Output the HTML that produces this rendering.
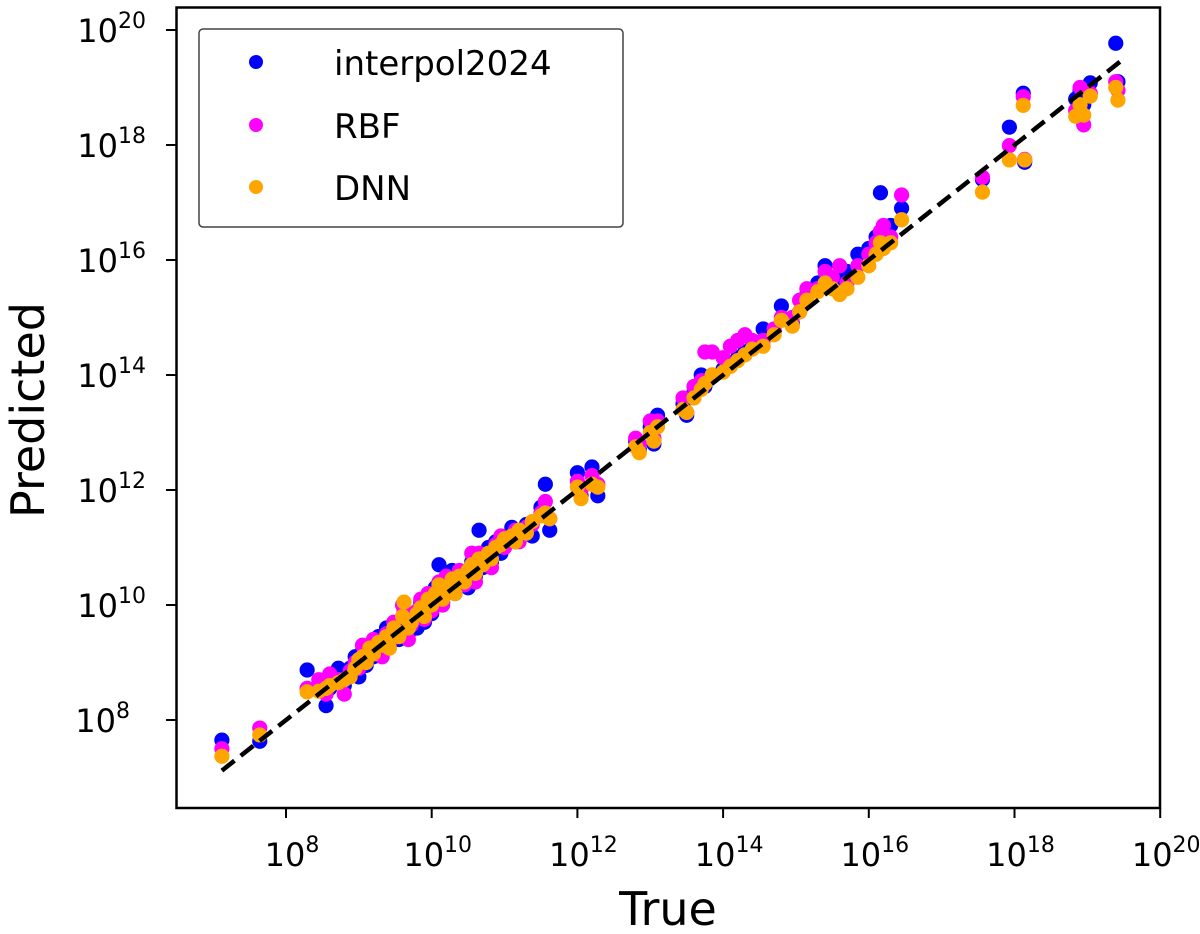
<!DOCTYPE html>
<html><head><meta charset="utf-8"><style>
body{margin:0;background:#fff}
svg{display:block;font-family:"DejaVu Sans","Liberation Sans",sans-serif}
</style></head><body>
<svg id="chart" width="1200" height="934" viewBox="0 0 1200 934">
<rect x="0" y="0" width="1200" height="934" fill="#fff"/>
<g id="ticks"></g>
<g id="marks"></g>
<rect x="176.5" y="7.5" width="983.5" height="800.5" fill="none" stroke="#000" stroke-width="2.5"/>
<text x="668" y="925" font-size="46" text-anchor="middle">True</text>
<text transform="translate(44,410) rotate(-90)" font-size="46" text-anchor="middle">Predicted</text>
<g>
<rect x="199" y="29" width="424" height="198" rx="4" fill="#fff" stroke="#444" stroke-width="1.5"/>
<circle cx="256" cy="62" r="7" fill="#0000ff"/>
<text x="334" y="75" font-size="34">interpol2024</text>
<circle cx="256" cy="125" r="7" fill="#ff00ff"/>
<text x="334" y="138" font-size="34">RBF</text>
<circle cx="256" cy="187" r="7" fill="#ffa500"/>
<text x="334" y="200" font-size="34">DNN</text>
</g>
</svg>
<script>
const xTicks=[8,10,12,14,16,18,20];
const yTicks=[8,10,12,14,16,18,20];
const trueVals=[7.12,7.64,8.29,8.45,8.55,8.6,8.72,8.8,8.88,8.95,9.0,9.05,9.1,9.15,9.2,9.27,9.32,9.38,9.42,9.48,9.55,9.6,9.62,9.68,9.72,9.8,9.85,9.9,9.95,10.0,10.05,10.1,10.15,10.2,10.28,10.32,10.38,10.45,10.5,10.55,10.6,10.65,10.7,10.78,10.82,10.88,10.95,11.0,11.1,11.15,11.2,11.3,11.38,11.5,11.56,11.62,12.0,12.05,12.2,12.28,12.8,12.85,13.0,13.05,13.1,13.45,13.5,13.6,13.7,13.75,13.85,14.0,14.1,14.2,14.3,14.4,14.55,14.7,14.8,14.95,15.05,15.15,15.3,15.4,15.5,15.6,15.7,15.85,16.0,16.1,16.16,16.2,16.3,16.45,17.56,17.93,18.14,18.12,18.84,18.9,18.95,19.04,19.39,19.42];
const interpolVals=[7.65,7.63,8.87,8.6,8.25,8.55,8.9,8.6,8.9,9.1,8.75,9.2,8.95,9.3,9.1,9.45,9.2,9.6,9.3,9.55,9.4,9.7,9.9,9.5,9.75,9.6,10.05,9.7,10.15,9.85,10.3,10.7,10.05,10.4,10.6,10.2,10.4,10.55,10.3,10.75,10.5,11.3,10.65,11.0,10.75,11.1,10.9,11.1,11.35,11.1,11.25,11.4,11.2,11.7,12.1,11.3,12.3,11.9,12.4,11.9,12.85,12.7,13.1,12.8,13.3,13.5,13.3,13.7,14.0,13.8,14.0,14.1,14.2,14.3,14.4,14.5,14.8,14.75,15.2,14.9,15.1,15.4,15.6,15.9,15.6,15.7,15.8,16.1,16.2,16.4,17.17,16.5,16.6,16.9,17.4,18.31,17.7,18.9,18.8,18.95,18.7,19.08,19.77,19.1];
const rbfVals=[7.5,7.86,8.55,8.7,8.45,8.8,8.7,8.45,8.85,9.0,8.9,9.3,9.05,9.2,9.4,9.3,9.1,9.5,9.35,9.7,9.5,10.0,9.9,9.4,9.65,9.9,10.1,9.75,10.2,9.9,10.1,10.4,10.0,10.5,10.3,10.25,10.6,10.35,10.5,10.9,10.4,10.9,10.7,10.8,10.65,11.05,11.2,11.0,11.2,11.3,11.1,11.35,11.4,11.6,11.8,11.5,12.15,12.0,12.25,12.1,12.9,12.8,13.2,12.9,13.2,13.6,13.35,13.8,13.9,14.4,14.4,14.3,14.5,14.6,14.7,14.6,14.6,14.8,15.0,15.0,15.3,15.5,15.5,15.8,15.7,15.9,15.6,15.9,16.1,16.3,16.5,16.6,16.4,17.13,17.44,17.99,17.75,18.84,18.6,19.0,18.35,18.9,19.1,18.95];
const dnnVals=[7.37,7.74,8.49,8.5,8.55,8.6,8.65,8.7,8.75,8.9,9.05,9.1,9.0,9.25,9.15,9.35,9.3,9.45,9.25,9.6,9.45,9.8,10.05,9.6,9.7,9.85,9.95,9.8,10.1,10.0,10.2,10.35,10.1,10.3,10.45,10.2,10.5,10.4,10.6,10.7,10.55,10.8,10.7,10.9,10.8,11.0,11.05,11.15,11.2,11.1,11.3,11.25,11.45,11.55,11.6,11.5,12.05,11.85,12.1,12.05,12.75,12.65,13.0,12.85,13.1,13.4,13.35,13.6,13.75,13.85,14.0,14.05,14.15,14.25,14.35,14.45,14.5,14.7,14.95,14.85,15.1,15.3,15.45,15.6,15.5,15.4,15.5,15.7,15.9,16.1,16.3,16.2,16.3,16.7,17.18,17.74,17.74,18.69,18.5,18.7,18.52,18.85,19.0,18.78];
const lineRange=[7.12,19.46];

const NS="http://www.w3.org/2000/svg";
function xs(v){return 286+(v-8)*72.85;}
function ys(v){return 720-(v-8)*57.5;}
const tg=document.getElementById('ticks');
const mg=document.getElementById('marks');
function mk(tag,attrs,parent){const e=document.createElementNS(NS,tag);for(const k in attrs)e.setAttribute(k,attrs[k]);parent.appendChild(e);return e;}
xTicks.forEach(t=>{
  const l=mk('line',{x1:xs(t),x2:xs(t),y1:808,y2:818,stroke:'#000','stroke-width':2},tg);
  
  
  const tx=mk('text',{x:xs(t)+6,y:866,'font-size':32,'text-anchor':'middle'},tg);
  
  
  tx.innerHTML='10<tspan dy="-14" font-size="22">'+t+'</tspan>';
});
yTicks.forEach(t=>{
  const l=mk('line',{x1:166,x2:176,y1:ys(t),y2:ys(t),stroke:'#000','stroke-width':2},tg);
  
  
  const tx=mk('text',{x:t>=10?146:130,y:ys(t)+12,'font-size':32,'text-anchor':'end'},tg);
  
  
  tx.innerHTML='10<tspan dy="-14" font-size="22">'+t+'</tspan>';
});
function series(vals,color,name){
  trueVals.forEach((t,i)=>{
    const c=mk('circle',{cx:xs(t),cy:ys(vals[i]),r:7.6,fill:color},mg);
    
    
  });
}
series(interpolVals,'#0000ff','interpol2024');
series(rbfVals,'#ff00ff','rbf');
series(dnnVals,'#ffa500','dnn');
const ln=mk('line',{x1:xs(lineRange[0]),y1:ys(lineRange[0]),x2:xs(lineRange[1]),y2:ys(lineRange[1]),stroke:'#000','stroke-width':4.5,'stroke-dasharray':'16,8'},mg);


</script>
</body></html>
